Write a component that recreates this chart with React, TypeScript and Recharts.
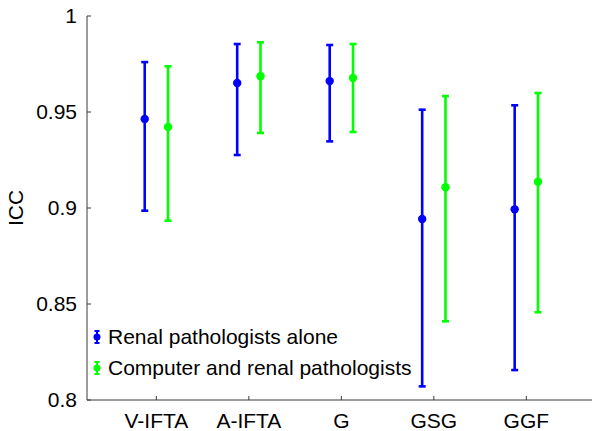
import { ScatterChart, Scatter, XAxis, YAxis, ErrorBar } from 'recharts';

const categories = ['V-IFTA', 'A-IFTA', 'G', 'GSG', 'GGF'];

const aloneIcc = [0.9464, 0.9651, 0.9661, 0.8943, 0.8993];
const aloneLow = [0.8986, 0.9276, 0.9347, 0.8071, 0.8156];
const aloneHigh = [0.976, 0.9854, 0.9849, 0.9512, 0.9535];

const compIcc = [0.9422, 0.9686, 0.9677, 0.9108, 0.9137];
const compLow = [0.8934, 0.9391, 0.9396, 0.841, 0.8457];
const compHigh = [0.9738, 0.9863, 0.9854, 0.9583, 0.9599];

const yTicks = [0.8, 0.85, 0.9, 0.95, 1];

const series = [
  { name: 'Renal pathologists alone', color: '#0000ff', offset: -0.126, icc: aloneIcc, low: aloneLow, high: aloneHigh },
  { name: 'Computer and renal pathologists', color: '#00ff00', offset: 0.126, icc: compIcc, low: compLow, high: compHigh },
];

const buildRows = (s: typeof series[number]) =>
  categories.map((_, i) => ({
    x: i + 1 + s.offset,
    y: s.icc[i],
    err: [s.icc[i] - s.low[i], s.high[i] - s.icc[i]],
  }));

const AXIS = '#3a3a3a';
const FONT = '"Liberation Sans", Arial, Helvetica, sans-serif';
const FS = 21;

function LegendIcon({ color }: { color: string }) {
  return (
    <svg width={10} height={16} style={{ display: 'block' }}>
      <line x1={5} y1={2} x2={5} y2={14} stroke={color} strokeWidth={2} />
      <line x1={2.5} y1={2} x2={7.5} y2={2} stroke={color} strokeWidth={2} />
      <line x1={2.5} y1={14} x2={7.5} y2={14} stroke={color} strokeWidth={2} />
      <circle cx={5} cy={8} r={3.5} fill={color} />
    </svg>
  );
}

export default function App() {
  return (
    <div style={{ position: 'absolute', left: 0, top: 0, width: 592, height: 431, fontFamily: FONT, overflow: 'hidden' }}>
      <ScatterChart width={592} height={431} margin={{ top: 16, right: 0, bottom: 0, left: 0 }}>
        <XAxis
          type="number"
          dataKey="x"
          domain={[0.25, 5.71]}
          ticks={[1, 2, 3, 4, 5]}
          tickFormatter={(v: number) => categories[Math.round(v) - 1] ?? ''}
          height={31}
          stroke={AXIS}
          tickSize={-4}
          tickMargin={17}
          tick={{ fill: '#000', fontSize: FS }}
          allowDataOverflow
        />
        <YAxis
          type="number"
          dataKey="y"
          domain={[0.8, 1]}
          ticks={yTicks}
          width={87}
          stroke={AXIS}
          tickSize={-4}
          tickMargin={14}
          tick={{ fill: '#000', fontSize: FS }}
          label={{ value: 'ICC', angle: -90, position: 'center', dx: -28, fill: '#000', fontSize: FS }}
          allowDataOverflow
        />
        {series.map((s) => (
          <Scatter
            key={s.name}
            name={s.name}
            data={buildRows(s)}
            fill={s.color}
            isAnimationActive={false}
            shape={(p: any) => <circle cx={p.cx} cy={p.cy} r={4.2} fill={s.color} />}
          >
            <ErrorBar dataKey="err" direction="y" width={3.5} stroke={s.color} strokeWidth={2.6} />
          </Scatter>
        ))}
      </ScatterChart>
      <div style={{ position: 'absolute', left: 92, top: 321, fontSize: FS }}>
        {series.map((s) => (
          <div key={s.name} style={{ display: 'flex', alignItems: 'center', height: 31, gap: 6 }}>
            <LegendIcon color={s.color} />
            <span>{s.name}</span>
          </div>
        ))}
      </div>
    </div>
  );
}
